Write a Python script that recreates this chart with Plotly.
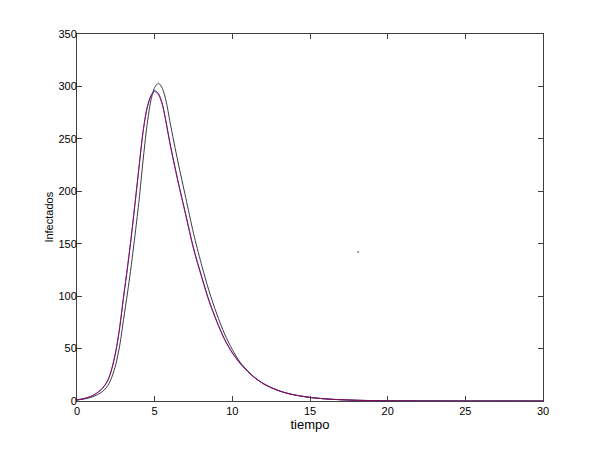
import plotly.graph_objects as go

# tiempo (t) y curvas de infectados
tiempo = [0, 0.5, 1, 1.5, 1.75, 2, 2.25, 2.5, 2.75, 3, 3.25, 3.5, 3.75, 4, 4.25, 4.5, 4.75,
          5, 5.25, 5.5, 5.75, 6, 6.5, 7, 7.5, 8, 8.5, 9, 9.5, 10, 10.5, 11, 11.5, 12, 12.5,
          13, 13.5, 14, 14.5, 15, 16, 17, 18, 19, 20, 22, 25, 30]

infectados_azul = [1, 2.5, 5, 10, 14, 20, 31, 47, 70, 99, 127, 157, 190, 224, 257, 279, 291,
                   296, 293, 283, 265, 245, 210, 178, 146, 120, 96, 76, 59, 46, 36, 28, 21.5,
                   16.5, 12.8, 9.8, 7.5, 5.8, 4.5, 3.4, 2.0, 1.2, 0.7, 0.4, 0.25, 0.1, 0.02, 0]

infectados_rojo = [1, 2.6, 5.2, 10.3, 14.3, 20.5, 31.5, 48, 71, 100, 128, 158, 191, 224, 256,
                   278, 290, 295, 292, 282, 264, 244, 209, 177, 145, 119, 95, 75.5, 58.5, 45.8,
                   35.8, 27.9, 21.4, 16.4, 12.7, 9.8, 7.5, 5.8, 4.5, 3.4, 2.0, 1.2, 0.7, 0.4,
                   0.25, 0.1, 0.02, 0]

infectados_negro = [1, 2, 4, 7.5, 10.5, 15, 23, 35, 53, 78, 103, 130, 160, 192, 229, 262, 286,
                    299, 303, 298, 285, 265, 228, 194, 160, 131, 105, 83, 64, 49, 37, 28.5,
                    21.7, 16.6, 12.8, 9.8, 7.5, 5.8, 4.5, 3.4, 2.0, 1.2, 0.7, 0.4, 0.25, 0.1,
                    0.02, 0]

# punto suelto que aparece en la figura original
punto_t = [18.1]
punto_v = [142]

fig = go.Figure()
fig.add_trace(go.Scatter(x=tiempo, y=infectados_negro, mode='lines', line_shape='spline',
                         line=dict(color='#3a3a3a', width=1, smoothing=0.8)))
fig.add_trace(go.Scatter(x=tiempo, y=infectados_azul, mode='lines', line_shape='spline',
                         line=dict(color='#2020c0', width=1, smoothing=0.8)))
fig.add_trace(go.Scatter(x=tiempo, y=infectados_rojo, mode='lines', line_shape='spline',
                         line=dict(color='#b00030', width=1, smoothing=0.8), opacity=0.75))
fig.add_trace(go.Scatter(x=punto_t, y=punto_v, mode='markers',
                         marker=dict(color='#888888', size=2)))

eje = dict(showgrid=False, zeroline=False, showline=True, linecolor='#404040', linewidth=1,
           mirror='ticks', ticks='inside', ticklen=5, tickcolor='#404040',
           tickfont=dict(family='Liberation Sans, Arial', size=11, color='black'))

fig.update_layout(
    width=601, height=451,
    margin=dict(l=69, r=66, t=26, b=58),
    paper_bgcolor='white', plot_bgcolor='white',
    showlegend=False,
    font=dict(family='Liberation Sans, Arial', size=11, color='black'),
    xaxis=dict(eje, range=[0, 30], tickvals=[0, 5, 10, 15, 20, 25, 30],
               title=dict(text='tiempo', standoff=1)),
    yaxis=dict(eje, range=[0, 350], tickvals=[0, 50, 100, 150, 200, 250, 300, 350],
               ticklabelstandoff=-3),
)

# título del eje y como anotación para colocarlo igual que en la figura
fig.add_annotation(text='Infectados', xref='paper', yref='paper', x=-0.062, y=0.5,
                   xanchor='center', yanchor='middle', textangle=-90, showarrow=False,
                   font=dict(family='Liberation Sans, Arial', size=11, color='black'))

fig.write_html("out.html")
